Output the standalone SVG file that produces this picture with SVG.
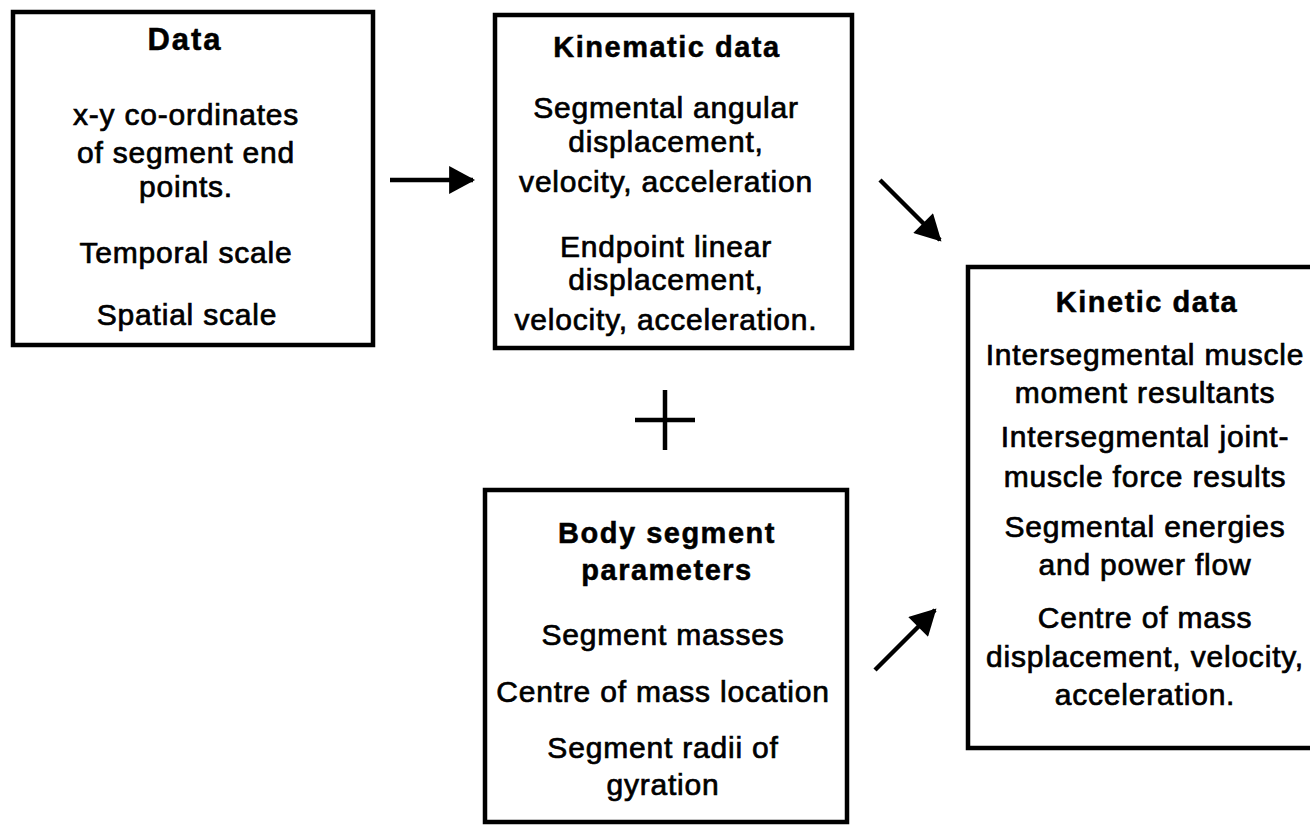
<svg xmlns="http://www.w3.org/2000/svg" width="1310" height="825" viewBox="0 0 1310 825">
<style>
.box{fill:#fff;stroke:#000;stroke-width:4.5}
text{font-family:"Liberation Sans",Arial,sans-serif;fill:#000;text-anchor:middle;stroke:#000}
.t{font-size:29px;font-weight:bold;letter-spacing:1.5px;stroke-width:0.5px}
.b{font-size:30px;letter-spacing:0.8px;stroke-width:0.7px}
.c{stroke:#000;stroke-width:4.5;fill:none}
</style>
<defs>
<marker id="ah" markerUnits="userSpaceOnUse" markerWidth="28" markerHeight="28" viewBox="0 0 25 27" refX="23" refY="13.5" orient="auto">
<path d="M0,0 L25,13.5 L0,27 Z" fill="#000"/>
</marker>
</defs>
<rect width="1310" height="825" fill="#fff"/>
<g id="data">
<rect class="box" x="13" y="12" width="360" height="333"/>
<text class="t" x="185" y="50" style="font-size:31px;letter-spacing:2px">Data</text>
<text class="b" x="186" y="125">x-y co-ordinates</text>
<text class="b" x="186" y="163">of segment end</text>
<text class="b" x="186" y="197">points.</text>
<text class="b" x="186" y="263">Temporal scale</text>
<text class="b" x="187" y="325">Spatial scale</text>
</g>
<g id="kinematic">
<rect class="box" x="495" y="15" width="357" height="333"/>
<text class="t" x="667" y="57">Kinematic data</text>
<text class="b" x="666" y="118">Segmental angular</text>
<text class="b" x="666" y="152">displacement,</text>
<text class="b" x="666" y="192">velocity, acceleration</text>
<text class="b" x="666" y="257">Endpoint linear</text>
<text class="b" x="666" y="290">displacement,</text>
<text class="b" x="666" y="330">velocity, acceleration.</text>
</g>
<g id="body">
<rect class="box" x="485" y="490" width="362" height="332"/>
<text class="t" x="667" y="543">Body segment</text>
<text class="t" x="667" y="580">parameters</text>
<text class="b" x="663" y="645">Segment masses</text>
<text class="b" x="663" y="702">Centre of mass location</text>
<text class="b" x="663" y="758">Segment radii of</text>
<text class="b" x="663" y="795">gyration</text>
</g>
<g id="kinetic">
<rect class="box" x="968" y="267" width="350" height="481"/>
<text class="t" x="1147" y="312">Kinetic data</text>
<text class="b" x="1145" y="365">Intersegmental muscle</text>
<text class="b" x="1145" y="403">moment resultants</text>
<text class="b" x="1145" y="447">Intersegmental joint-</text>
<text class="b" x="1145" y="487">muscle force results</text>
<text class="b" x="1145" y="537">Segmental energies</text>
<text class="b" x="1145" y="575">and power flow</text>
<text class="b" x="1145" y="628">Centre of mass</text>
<text class="b" x="1145" y="667">displacement, velocity,</text>
<text class="b" x="1145" y="705">acceleration.</text>
</g>
<g id="plus">
<line class="c" x1="665" y1="390" x2="665" y2="450"/>
<line class="c" x1="635" y1="420" x2="695" y2="420"/>
</g>
<g id="connectors">
<line class="c" x1="390" y1="180" x2="473" y2="180" marker-end="url(#ah)"/>
<line class="c" x1="880" y1="180" x2="940" y2="240" marker-end="url(#ah)"/>
<line class="c" x1="875" y1="670" x2="935" y2="610" marker-end="url(#ah)"/>
</g>
</svg>
